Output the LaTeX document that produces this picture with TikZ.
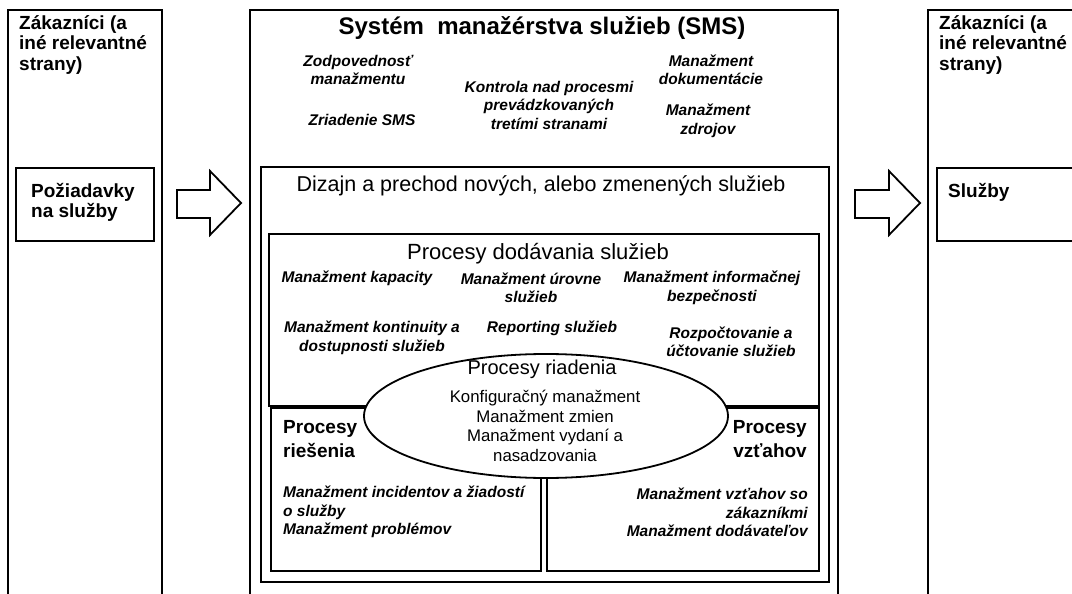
\documentclass[tikz,border=0pt]{standalone}
\usepackage{fontspec}
\setmainfont{Liberation Sans}
\usetikzlibrary{shapes.geometric}
\begin{document}
\begin{tikzpicture}[x=1pt,y=-1pt,
  box/.style={draw, line width=2.8pt, outer sep=0pt, inner sep=0pt, anchor=north west},
  colhead/.style={font=\bfseries\fontsize{19}{20.5}\selectfont, align=left, inner sep=0pt},
  headtxt/.style={font=\fontsize{20}{23}\selectfont, inner sep=0pt},
  dizheadtxt/.style={font=\fontsize{21.5}{24}\selectfont, inner sep=0pt},
  dodheadtxt/.style={font=\fontsize{22}{24}\selectfont, inner sep=0pt},
  titletxt/.style={font=\bfseries\fontsize{24}{27}\selectfont, inner sep=0pt},
  bhead/.style={font=\bfseries\fontsize{19}{24}\selectfont, inner sep=0pt},
  item/.style={font=\bfseries\itshape\fontsize{15.5}{18.5}\selectfont, align=center, inner sep=0pt},
  plaintxt/.style={font=\fontsize{16.8}{19.5}\selectfont, align=center, inner sep=0pt},
  blockarrow/.style={draw, line width=1.8pt, fill=white, line join=miter}]
\useasboundingbox (0,0) rectangle (1072,594);
\clip (0,0) rectangle (1072,594);

% outer columns
\node[box, minimum width=154pt, minimum height=620pt] (leftcol) at (8,10) {};
\node[box, minimum width=138pt, minimum height=73pt] (req) at (16,168) {};
\node[colhead, anchor=north west] (lefthead) at (19,15) {Zákazníci (a\\iné relevantné\\strany)};
\node[colhead, anchor=north west] (reqtxt) at (31,183) {Požiadavky\\na služby};

\node[box, minimum width=170pt, minimum height=620pt] (rightcol) at (928,10) {};
\node[box, minimum width=160pt, minimum height=73pt] (serv) at (937,168) {};
\node[colhead, anchor=north west] (righthead) at (939,15) {Zákazníci (a\\iné relevantné\\strany)};
\node[colhead, anchor=north west] (servtxt) at (948,183) {Služby};

% block arrows
\draw[blockarrow] (177,190) -- (210,190) -- (210,171) -- (241,203) -- (210,235) -- (210,218) -- (177,218) -- cycle;
\draw[blockarrow] (855,190) -- (889,190) -- (889,171) -- (920,203) -- (889,235) -- (889,218) -- (855,218) -- cycle;

% SMS box
\node[box, minimum width=588pt, minimum height=620pt] (sms) at (250,10) {};
\node[titletxt] (smstitle) at (542,28) {Systém\ \ manažérstva služieb (SMS)};
\node[item] (zodp) at (358,70) {Zodpovednosť\\manažmentu};
\node[item] (zriad) at (362,120) {Zriadenie SMS};
\node[item] (kontr) at (549,105) {Kontrola nad procesmi\\prevádzkovaných\\tretími stranami};
\node[item] (dok) at (711,70) {Manažment\\dokumentácie};
\node[item] (zdroj) at (708,121) {Manažment\\zdrojov};

% Dizajn box
\node[box, minimum width=568pt, minimum height=415pt] (dizajn) at (261,167) {};
\node[dizheadtxt] (dizajntitle) at (541,186) {Dizajn a prechod nových, alebo zmenených služieb};

% delivery processes
\node[box, minimum width=550pt, minimum height=172pt] (dodav) at (269,234) {};
\node[box, minimum width=270pt, minimum height=163pt] (ries) at (271,408) {};
\node[box, minimum width=272pt, minimum height=163pt] (vztah) at (547,408) {};

\node[dodheadtxt] (dodavtitle) at (538,254) {Procesy dodávania služieb};
\node[item] (kapac) at (357,278) {Manažment kapacity};
\node[item] (urov) at (531,288) {Manažment úrovne\\služieb};
\node[item] (infob) at (712,288) {Manažment informačnej\\bezpečnosti};
\node[item] (kontin) at (372,338) {Manažment kontinuity a\\dostupnosti služieb};
\node[item] (report) at (552,328) {Reporting služieb};
\node[item] (rozp) at (731,342) {Rozpočtovanie a\\účtovanie služieb};

% control processes ellipse
\node[draw, ellipse, fill=white, line width=1.8pt, minimum width=364pt, minimum height=124pt, inner sep=0pt] (riadenie) at (546,416) {};
\node[headtxt] (riadtitle) at (542,369) {Procesy riadenia};
\node[plaintxt] (riadtxt) at (545,426) {Konfiguračný manažment\\Manažment zmien\\Manažment vydaní a\\nasadzovania};

% resolution and relationship processes
\node[bhead, align=left, anchor=north west] (riestitle) at (283,420) {Procesy\\riešenia};
\node[bhead, align=right, anchor=north east] (vztahtitle) at (807,420) {Procesy\\vzťahov};
\node[item, align=left, anchor=north west] (riestxt) at (283,486) {Manažment incidentov a žiadostí\\o služby\\Manažment problémov};
\node[item, align=right, anchor=north east] (vztahtxt) at (808,488) {Manažment vzťahov so\\zákazníkmi\\Manažment dodávateľov};
\end{tikzpicture}
\end{document}
